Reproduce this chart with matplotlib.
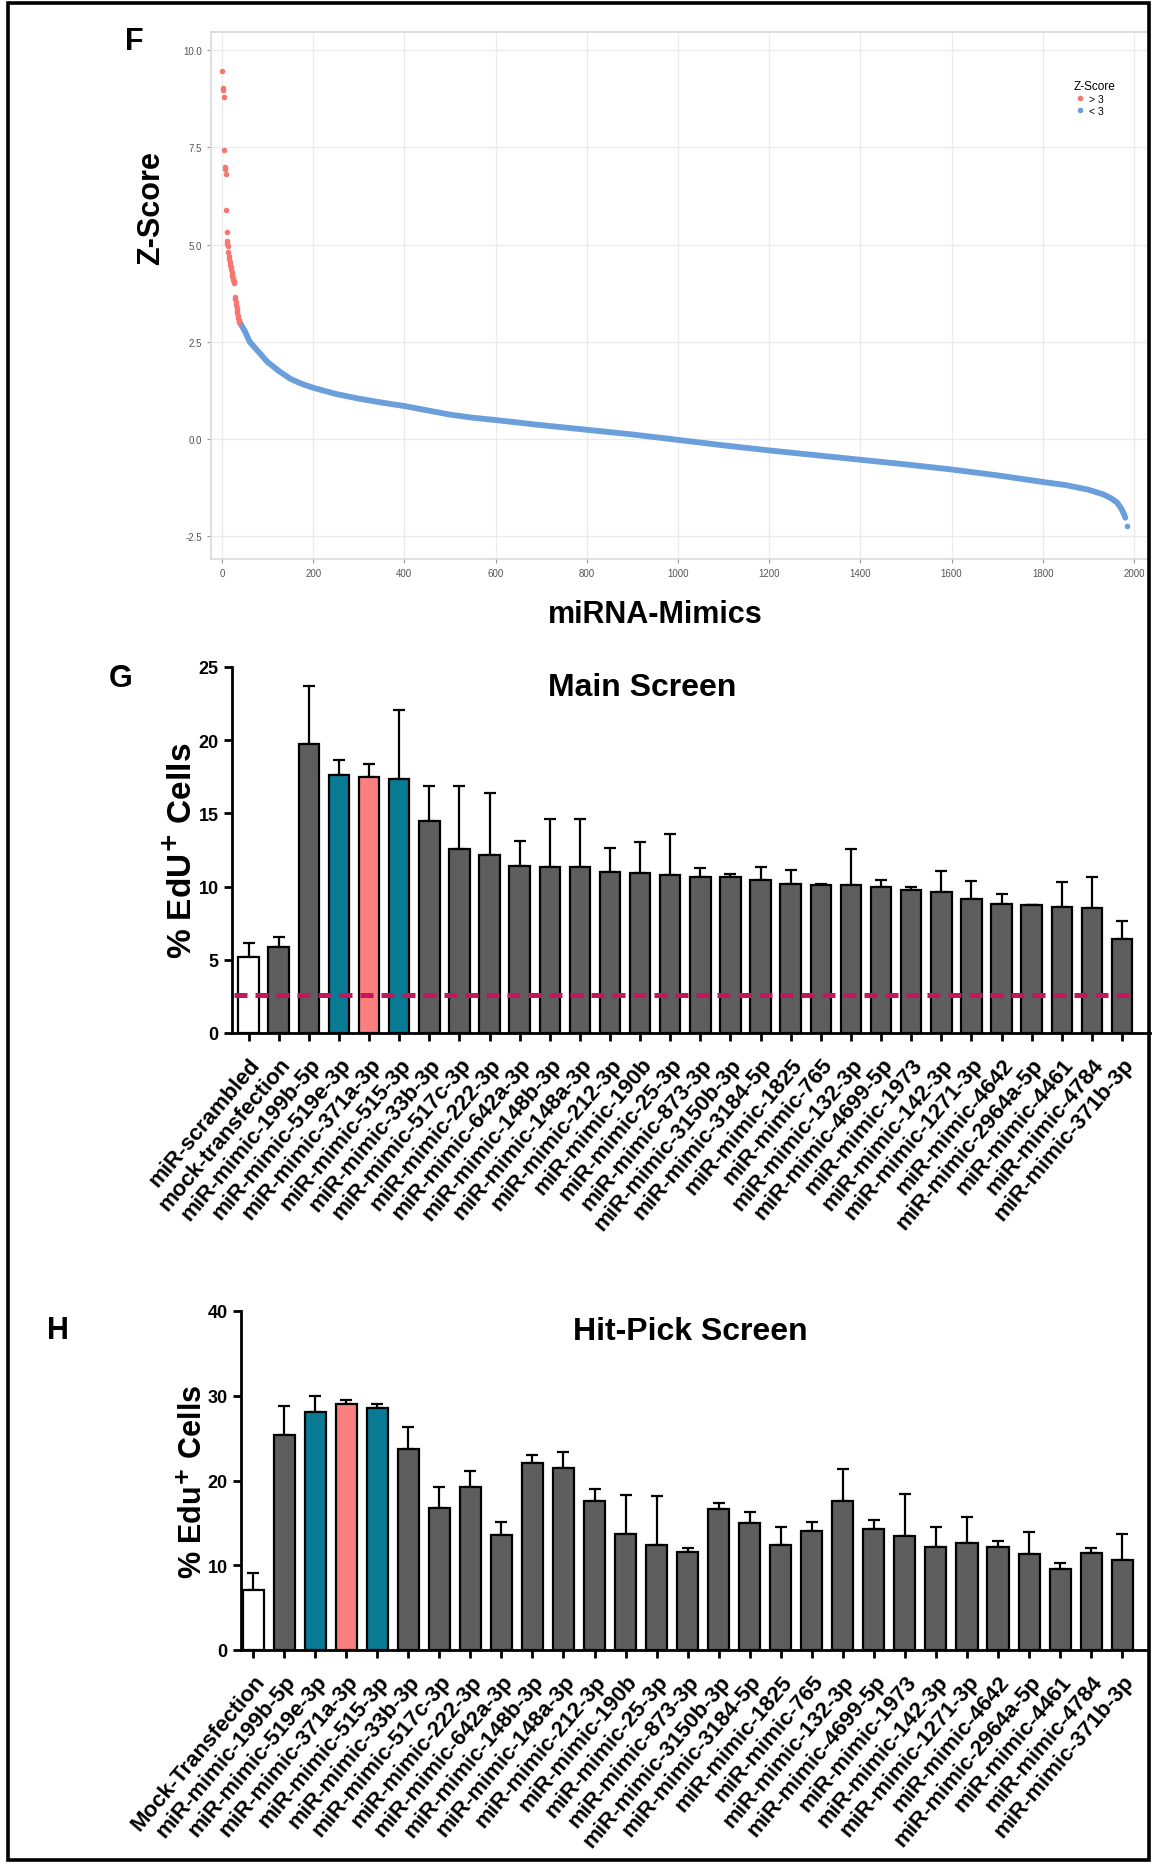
import matplotlib
matplotlib.use("Agg")
import matplotlib.pyplot as plt
from matplotlib.patches import Rectangle
from matplotlib.lines import Line2D
import numpy as np

plt.rcParams["font.family"] = ["Liberation Sans", "DejaVu Sans"]

# ---- panel F: ranked z-scores ----
red_rank = list(range(1, 39))
red_z = [9.46, 9.03, 8.98, 8.78, 7.43, 6.98, 6.93, 6.80, 5.89, 5.31, 5.09, 5.02,
         4.95, 4.80, 4.70, 4.62, 4.55, 4.48, 4.42, 4.36, 4.30, 4.25, 4.20, 4.15,
         4.10, 4.05, 4.00, 3.66, 3.60, 3.52, 3.45, 3.38, 3.30, 3.24, 3.17, 3.11,
         3.06, 3.02]
blue_rank = [39, 50, 61, 70, 85, 100, 125, 150, 175, 200, 250, 300, 350, 400, 450,
             500, 550, 600, 700, 800, 900, 1000, 1100, 1200, 1300, 1400, 1500, 1600,
             1700, 1800, 1850, 1900, 1933, 1950, 1963, 1972, 1978, 1981]
blue_z = [3.00, 2.78, 2.50, 2.38, 2.18, 1.98, 1.75, 1.55, 1.42, 1.32, 1.16, 1.04,
          0.94, 0.85, 0.74, 0.63, 0.55, 0.49, 0.36, 0.24, 0.12, -0.02, -0.16,
          -0.29, -0.41, -0.53, -0.65, -0.78, -0.93, -1.10, -1.18, -1.30, -1.42,
          -1.52, -1.63, -1.78, -1.92, -2.02]
last_rank = [1984]
last_z = [-2.22]

# ---- panel G: main screen ----
g_labels = ["miR-scrambled", "mock-transfection", "miR-mimic-199b-5p", "miR-mimic-519e-3p",
            "miR-mimic-371a-3p", "miR-mimic-515-3p", "miR-mimic-33b-3p", "miR-mimic-517c-3p",
            "miR-mimic-222-3p", "miR-mimic-642a-3p", "miR-mimic-148b-3p", "miR-mimic-148a-3p",
            "miR-mimic-212-3p", "miR-mimic-190b", "miR-mimic-25-3p", "miR-mimic-873-3p",
            "miR-mimic-3150b-3p", "miR-mimic-3184-5p", "miR-mimic-1825", "miR-mimic-765",
            "miR-mimic-132-3p", "miR-mimic-4699-5p", "miR-mimic-1973", "miR-mimic-142-3p",
            "miR-mimic-1271-3p", "miR-mimic-4642", "miR-mimic-2964a-5p", "miR-mimic-4461",
            "miR-mimic-4784", "miR-mimic-371b-3p"]
g_mean = [5.17, 5.88, 19.76, 17.59, 17.52, 17.37, 14.49, 12.60, 12.15, 11.39, 11.33,
          11.33, 11.03, 10.94, 10.78, 10.64, 10.64, 10.48, 10.19, 10.12, 10.10, 9.96,
          9.75, 9.66, 9.12, 8.82, 8.73, 8.61, 8.52, 6.40]
g_top = [6.15, 6.56, 23.70, 18.64, 18.39, 22.04, 16.86, 16.86, 16.36, 13.10, 14.63,
         14.63, 12.67, 13.06, 13.60, 11.30, 10.87, 11.35, 11.10, 10.19, 12.58, 10.48,
         9.96, 11.08, 10.35, 9.48, 8.76, 10.32, 10.64, 7.66]
g_threshold = 2.62

# ---- panel H: hit-pick screen ----
h_labels = ["Mock-Transfection", "miR-mimic-199b-5p", "miR-mimic-519e-3p", "miR-mimic-371a-3p",
            "miR-mimic-515-3p", "miR-mimic-33b-3p", "miR-mimic-517c-3p", "miR-mimic-222-3p",
            "miR-mimic-642a-3p", "miR-mimic-148b-3p", "miR-mimic-148a-3p", "miR-mimic-212-3p",
            "miR-mimic-190b", "miR-mimic-25-3p", "miR-mimic-873-3p", "miR-mimic-3150b-3p",
            "miR-mimic-3184-5p", "miR-mimic-1825", "miR-mimic-765", "miR-mimic-132-3p",
            "miR-mimic-4699-5p", "miR-mimic-1973", "miR-mimic-142-3p", "miR-mimic-1271-3p",
            "miR-mimic-4642", "miR-mimic-2964a-5p", "miR-mimic-4461", "miR-mimic-4784",
            "miR-mimic-371b-3p"]
h_mean = [7.04, 25.33, 28.03, 28.97, 28.58, 23.77, 16.81, 19.23, 13.53, 22.09, 21.42,
          17.55, 13.72, 12.39, 11.61, 16.65, 14.93, 12.39, 14.07, 17.55, 14.31, 13.41,
          12.12, 12.59, 12.12, 11.30, 9.50, 11.42, 10.67]
h_top = [9.11, 28.77, 29.98, 29.52, 28.97, 26.35, 19.19, 21.11, 15.05, 23.03, 23.38,
         19.04, 18.30, 18.18, 12.00, 17.32, 16.30, 14.54, 15.09, 21.31, 15.32, 18.45,
         14.54, 15.72, 12.86, 13.92, 10.28, 12.00, 13.72]

GRAY = "#5e5e5e"
TEAL = "#0a7b95"
PINK = "#fa8080"
special = {"miR-mimic-519e-3p": TEAL, "miR-mimic-515-3p": TEAL, "miR-mimic-371a-3p": PINK}

W, H = 1152, 1865
fig = plt.figure(figsize=(W / 100, H / 100), dpi=100)


def rect(left, top, right, bottom):
    return [left / W, 1 - bottom / H, (right - left) / W, (bottom - top) / H]


def ftext(x, y, s, **kw):
    # place text at a pixel position (from top-left)
    fig.text(x / W, 1 - y / H, s, ha="center", va="center", fontweight="bold", **kw)


# outer frame
fig.patches.append(Rectangle((8 / W, 4 / H), (1149 - 8) / W, (1861 - 4) / H,
                             transform=fig.transFigure, fill=False, lw=2.6,
                             edgecolor="black"))

# ---------------- F ----------------
axf = fig.add_axes(rect(211, 33, 1149, 560))
axf.plot(blue_rank, blue_z, color="#6a9fdc", lw=4.2, solid_capstyle="round", zorder=3)
axf.scatter(last_rank, last_z, s=16, color="#6a9fdc", zorder=3, linewidths=0)
axf.scatter(red_rank, red_z, s=16, color="#f8766d", zorder=4, linewidths=0)
axf.set_xlim(-24, 2033)
axf.set_ylim(-3.08, 10.46)
axf.set_xticks(range(0, 2001, 200))
axf.set_yticks([-2.5, 0.0, 2.5, 5.0, 7.5, 10.0])
axf.set_yticklabels(["-2.5", "0.0", "2.5", "5.0", "7.5", "10.0"])
axf.grid(True, color="#ebebeb", lw=1.0)
axf.set_axisbelow(True)
for s in axf.spines.values():
    s.set_color("#d9d9d9")
    s.set_linewidth(1.2)
axf.tick_params(colors="#999999", labelcolor="#555555", labelsize=7, length=3, width=0.8)
handles = [Line2D([], [], ls="none", marker="o", ms=3, color="#f8766d"),
           Line2D([], [], ls="none", marker="o", ms=3, color="#6a9fdc")]
leg = axf.legend(handles, ["> 3", "< 3"], title="Z-Score", loc="upper left",
                 bbox_to_anchor=(0.912, 0.922), frameon=False, fontsize=7.5,
                 title_fontsize=8.5, handletextpad=0.3, labelspacing=0.15,
                 handlelength=1.2, borderpad=0.2)
leg._legend_box.align = "left"
ftext(151, 208, "Z-Score", fontsize=22, rotation=90)
ftext(655, 615, "miRNA-Mimics", fontsize=22)
ftext(134, 42, "F", fontsize=22)


def bar_panel(ax, labels, mean, top, first_color):
    x = np.arange(len(labels))
    colors = [special.get(l, GRAY) for l in labels]
    colors[0] = first_color
    ax.bar(x, mean, width=0.68, color=colors, edgecolor="black", linewidth=1.6, zorder=2)
    ax.errorbar(x, mean, yerr=[np.zeros(len(mean)), np.array(top) - np.array(mean)],
                fmt="none", ecolor="black", elinewidth=1.6, capsize=4.5, capthick=1.6,
                zorder=1)
    ax.set_xticks(x)
    ax.set_xticklabels(labels, rotation=50, ha="right", rotation_mode="anchor",
                       fontsize=16, fontweight="bold")
    for s in ["top", "right"]:
        ax.spines[s].set_visible(False)
    for s in ["left", "bottom"]:
        ax.spines[s].set_linewidth(2.0)
    ax.tick_params(axis="y", labelsize=13, width=2, length=6)
    ax.tick_params(axis="x", width=2, length=6, pad=9)


# ---------------- G ----------------
axg = fig.add_axes(rect(232, 668, 1150, 1034))
bar_panel(axg, g_labels, g_mean, g_top, "white")
axg.plot([-0.5, len(g_labels) - 0.5], [g_threshold, g_threshold], color="#c2185b",
         lw=3.6, ls=(0, (2.6, 1.6)), zorder=3)
axg.set_xlim(-0.55, 29.93)
axg.set_ylim(0, 25)
axg.set_yticks(range(0, 26, 5))
for t in axg.get_yticklabels():
    t.set_fontweight("bold")
axg.set_ylabel("% EdU$^{\\mathbf{+}}$ Cells", fontsize=24, fontweight="bold", labelpad=0)
axg.set_title("Main Screen", fontsize=23, fontweight="bold", x=(642 - 232) / (1150 - 232),
              y=1.0, pad=-20)
ftext(121, 679, "G", fontsize=22)

# ---------------- H ----------------
axh = fig.add_axes(rect(241, 1312, 1147, 1651))
bar_panel(axh, h_labels, h_mean, h_top, "white")
axh.set_xlim(-0.39, 28.8)
axh.set_ylim(0, 40)
axh.set_yticks(range(0, 41, 10))
for t in axh.get_yticklabels():
    t.set_fontweight("bold")
axh.set_ylabel("% Edu$^{\\mathbf{+}}$ Cells", fontsize=22, fontweight="bold", labelpad=-1)
axh.set_title("Hit-Pick Screen", fontsize=23, fontweight="bold",
              x=(690 - 241) / (1147 - 241), y=1.0, pad=-20)
ftext(58, 1331, "H", fontsize=22)

fig.savefig("out.png", dpi=100, facecolor="white")
